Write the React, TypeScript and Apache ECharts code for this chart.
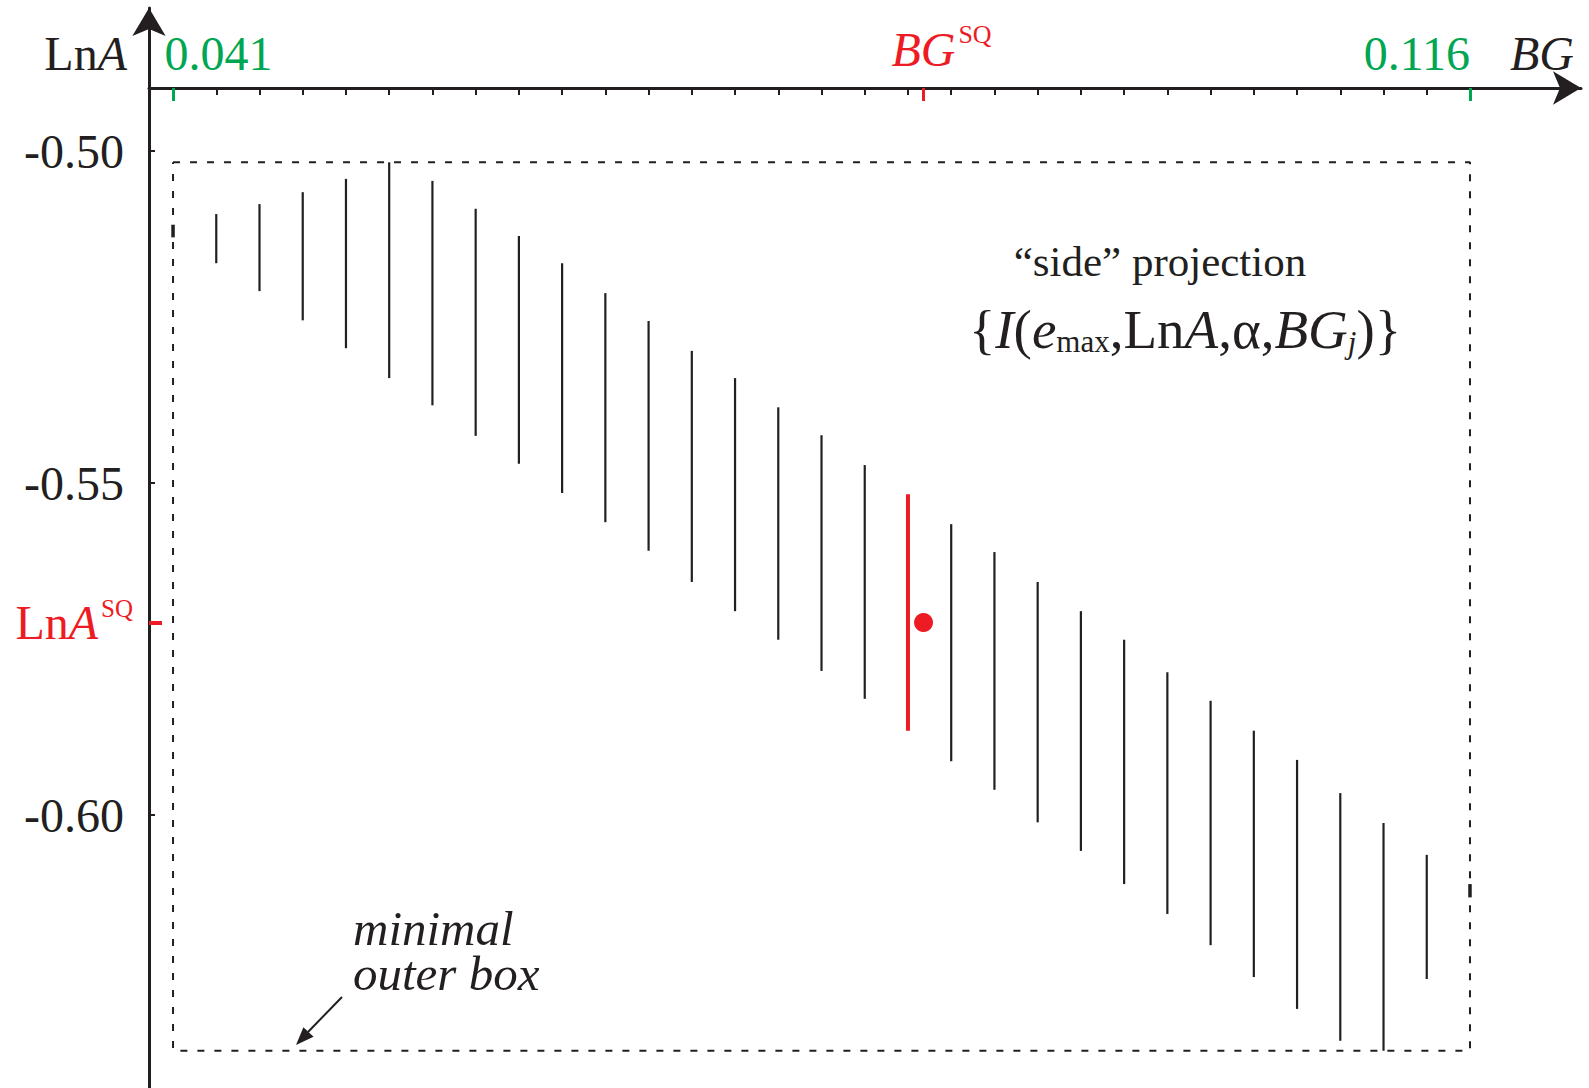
import React, { useEffect, useRef } from 'react';
import * as echarts from 'echarts';

// ---- data ----
const BG_VALUES = [
  0.041, 0.0435, 0.046, 0.0485, 0.051, 0.0535, 0.056, 0.0585, 0.061, 0.0635,
  0.066, 0.0685, 0.071, 0.0735, 0.076, 0.0785, 0.081, 0.0835, 0.086, 0.0885,
  0.091, 0.0935, 0.096, 0.0985, 0.101, 0.1035, 0.106, 0.1085, 0.111, 0.1135, 0.116,
];
const LNA_TOP = [
  -0.5111, -0.5095, -0.508, -0.5062, -0.5042, -0.5017, -0.5045, -0.5087, -0.5128, -0.5169,
  -0.5214, -0.5256, -0.5301, -0.5342, -0.5386, -0.5428, -0.5473, -0.5517, -0.5562, -0.5604,
  -0.5649, -0.5693, -0.5736, -0.5785, -0.5828, -0.5873, -0.5917, -0.5967, -0.6012, -0.606, -0.6104,
];
const LNA_BOTTOM = [
  -0.513, -0.5169, -0.5211, -0.5255, -0.5297, -0.5342, -0.5383, -0.5429, -0.5471, -0.5515,
  -0.5559, -0.5602, -0.5649, -0.5693, -0.5736, -0.5783, -0.5825, -0.5873, -0.5919, -0.5962,
  -0.6011, -0.6054, -0.6104, -0.6149, -0.6196, -0.6244, -0.6292, -0.634, -0.6355, -0.6247, -0.6124,
];
const SQ_INDEX = 17;
const BG_SQ = 0.0844;
const LNA_SQ = -0.571;
const Y_TICKS = [-0.5, -0.55, -0.6];
const X_MIN_LABEL = 0.041;
const X_MAX_LABEL = 0.116;

// axis extents (chosen so the frame matches the reference)
const X_MIN = 0.03961;
const X_MAX = 0.12242;
const Y_MIN = -0.64111;
const Y_MAX = -0.478464;

const INK = '#231F20';
const RED = '#ED1C24';
const GREEN = '#00A651';
const SERIF = "'Liberation Serif', 'DejaVu Serif', serif";

const segData = BG_VALUES.map((bg, i) => [bg, LNA_TOP[i], LNA_BOTTOM[i]]);
const lastIdx = BG_VALUES.length - 1;
const blackSegs = segData.filter((_, i) => i !== 0 && i !== lastIdx && i !== SQ_INDEX);
const endSegs = [segData[0], segData[lastIdx]];
const redSeg = [segData[SQ_INDEX]];

const boxTop = Math.max(...LNA_TOP);
const boxBottom = Math.min(...LNA_BOTTOM);
const boxLeft = BG_VALUES[0];
const boxRight = BG_VALUES[lastIdx];
const boxData = [
  [boxLeft, boxTop],
  [boxRight, boxTop],
  [boxRight, boxBottom],
  [boxLeft, boxBottom],
  [boxLeft, boxTop],
];

const segRenderer = (color: string, width: number) => (params: any, api: any) => {
  const x = api.value(0);
  const p1 = api.coord([x, api.value(1)]);
  const p2 = api.coord([x, api.value(2)]);
  return {
    type: 'line',
    shape: { x1: p1[0], y1: p1[1], x2: p2[0], y2: p2[1] },
    style: { stroke: color, lineWidth: width, lineCap: 'butt' },
  };
};

const X_OFFSET = -80;

const xBase = {
  type: 'value',
  min: X_MIN,
  max: X_MAX,
  position: 'top',
  offset: X_OFFSET,
  splitLine: { show: false },
  axisLine: { show: false, onZero: false },
  axisTick: { show: false },
  axisLabel: { show: false },
};

const yBase = {
  type: 'value',
  min: Y_MIN,
  max: Y_MAX,
  position: 'left',
  splitLine: { show: false },
  axisLine: { show: false, onZero: false },
  axisTick: { show: false },
  axisLabel: { show: false },
};

const option: any = {
  animation: false,
  backgroundColor: '#ffffff',
  grid: { left: 149, right: 8, top: 8, bottom: 0, containLabel: false },
  xAxis: [
    {
      ...xBase,
      axisLine: {
        show: true,
        onZero: false,
        symbol: ['none', 'arrow'],
        symbolSize: [25, 28],
        lineStyle: { color: INK, width: 3 },
      },
      axisTick: {
        show: true,
        inside: true,
        length: 7,
        customValues: BG_VALUES.slice(1, -1),
        lineStyle: { color: INK, width: 2 },
      },
    },
    {
      ...xBase,
      axisTick: {
        show: true,
        inside: true,
        length: 13,
        customValues: [X_MIN_LABEL],
        lineStyle: { color: GREEN, width: 3 },
      },
      axisLabel: {
        show: true,
        customValues: [X_MIN_LABEL],
        align: 'center',
        padding: [0, 0, 0, 91],
        color: GREEN,
        fontFamily: SERIF,
        fontSize: 48,
        margin: 11,
        formatter: (v: number) => v.toFixed(3),
      },
    },
    {
      ...xBase,
      axisTick: {
        show: true,
        inside: true,
        length: 13,
        customValues: [X_MAX_LABEL],
        lineStyle: { color: GREEN, width: 3 },
      },
      axisLabel: {
        show: true,
        customValues: [X_MAX_LABEL],
        align: 'right',
        color: GREEN,
        fontFamily: SERIF,
        fontSize: 48,
        margin: 11,
        formatter: (v: number) => v.toFixed(3),
      },
    },
    {
      ...xBase,
      axisTick: {
        show: true,
        inside: true,
        length: 13,
        customValues: [BG_SQ],
        lineStyle: { color: RED, width: 3 },
      },
      axisLabel: {
        show: true,
        customValues: [BG_SQ],
        color: RED,
        fontFamily: SERIF,
        fontSize: 48,
        margin: 11,
        padding: [0, 0, 0, 36],
        formatter: () => '{i|BG}{s|SQ}',
        rich: {
          i: { fontStyle: 'italic', fontSize: 48, fontFamily: SERIF, color: RED },
          s: { fontSize: 26, fontFamily: SERIF, color: RED, padding: [0, 0, 30, 3] },
        },
      },
    },
  ],
  yAxis: [
    {
      ...yBase,
      axisLine: {
        show: true,
        onZero: false,
        symbol: ['none', 'arrow'],
        symbolSize: [25, 28],
        lineStyle: { color: INK, width: 3 },
      },
      axisTick: {
        show: true,
        inside: true,
        length: 6,
        customValues: Y_TICKS,
        lineStyle: { color: INK, width: 2 },
      },
      axisLabel: {
        show: true,
        customValues: Y_TICKS,
        color: INK,
        fontFamily: SERIF,
        fontSize: 48,
        margin: 25,
        formatter: (v: number) => v.toFixed(2),
      },
    },
    {
      ...yBase,
      axisTick: {
        show: true,
        inside: true,
        length: 13,
        customValues: [LNA_SQ],
        lineStyle: { color: RED, width: 4 },
      },
      axisLabel: {
        show: true,
        customValues: [LNA_SQ],
        color: RED,
        fontFamily: SERIF,
        fontSize: 48,
        margin: 16,
        formatter: () => 'Ln{i|A}{s|SQ}',
        rich: {
          i: { fontStyle: 'italic', fontSize: 48, fontFamily: SERIF, color: RED },
          s: { fontSize: 25, fontFamily: SERIF, color: RED, padding: [0, 0, 28, 3] },
        },
      },
    },
  ],
  series: [
    {
      type: 'line',
      data: boxData,
      symbol: 'none',
      silent: true,
      lineStyle: { color: INK, width: 2, type: [7, 10] },
      z: 2,
    },
    {
      type: 'custom',
      data: blackSegs,
      renderItem: segRenderer(INK, 2.2),
      z: 3,
    },
    {
      type: 'custom',
      data: endSegs,
      renderItem: segRenderer(INK, 3.5),
      z: 3,
    },
    {
      type: 'custom',
      data: redSeg,
      renderItem: segRenderer(RED, 4),
      z: 4,
    },
    {
      type: 'scatter',
      data: [[BG_SQ, LNA_SQ]],
      symbol: 'circle',
      symbolSize: 19,
      itemStyle: { color: RED, opacity: 1 },
      z: 5,
    },
  ],
  graphic: [
    {
      type: 'text',
      style: {
        text: 'Ln{i|A}',
        x: 127,
        y: 53,
        align: 'right',
        verticalAlign: 'middle',
        fontSize: 48,
        fontFamily: SERIF,
        fill: INK,
        rich: { i: { fontStyle: 'italic', fontSize: 48, fontFamily: SERIF, fill: INK } },
      },
    },
    {
      type: 'text',
      style: {
        text: 'BG',
        x: 1510,
        y: 53,
        align: 'left',
        verticalAlign: 'middle',
        fontSize: 48,
        fontStyle: 'italic',
        fontFamily: SERIF,
        fill: INK,
      },
    },
    {
      type: 'text',
      style: {
        text: '\u201Cside\u201D projection',
        x: 1160,
        y: 261,
        align: 'center',
        verticalAlign: 'middle',
        fontSize: 43,
        fontFamily: SERIF,
        fill: INK,
      },
    },
    {
      type: 'text',
      style: {
        text: '{{i|I}({i|e}{sub|max},Ln{i|A},\u03B1,{i|BG}{subj|j})}',
        x: 1185,
        y: 329,
        align: 'center',
        verticalAlign: 'middle',
        fontSize: 55,
        fontFamily: SERIF,
        fill: INK,
        rich: {
          i: { fontStyle: 'italic', fontSize: 55, fontFamily: SERIF, fill: INK },
          sub: { fontSize: 31, fontFamily: SERIF, fill: INK, padding: [24, 0, 0, 0] },
          subj: { fontSize: 31, fontStyle: 'italic', fontFamily: SERIF, fill: INK, padding: [26, 0, 0, 0] },
        },
      },
    },
    {
      type: 'text',
      style: {
        text: 'minimal',
        x: 353,
        y: 928,
        align: 'left',
        verticalAlign: 'middle',
        fontSize: 49,
        lineHeight: 44,
        fontStyle: 'italic',
        fontFamily: SERIF,
        fill: INK,
      },
    },
    {
      type: 'text',
      style: {
        text: 'outer box',
        x: 353,
        y: 973,
        align: 'left',
        verticalAlign: 'middle',
        fontSize: 49,
        lineHeight: 44,
        fontStyle: 'italic',
        fontFamily: SERIF,
        fill: INK,
      },
    },
    {
      type: 'line',
      shape: { x1: 342, y1: 997, x2: 308, y2: 1032 },
      style: { stroke: INK, lineWidth: 2 },
    },
    {
      type: 'polygon',
      shape: { points: [[296, 1045], [313.6, 1036.8], [303.4, 1027.2]] },
      style: { fill: INK },
    },
  ],
};

export default function App() {
  const ref = useRef<HTMLDivElement>(null);
  useEffect(() => {
    const chart = echarts.init(ref.current!, undefined, { renderer: 'svg' });
    chart.setOption(option);
    return () => chart.dispose();
  }, []);
  return (
    <div
      ref={ref}
      style={{ position: 'fixed', left: 0, top: 0, width: 1589, height: 1088, background: '#fff' }}
    />
  );
}
